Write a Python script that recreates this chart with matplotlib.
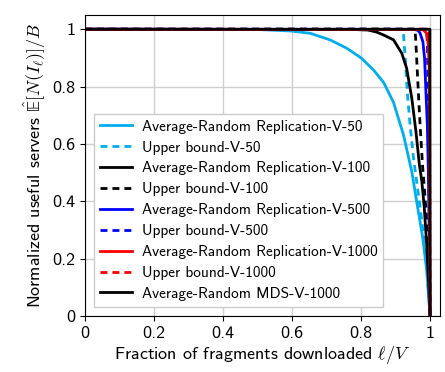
import matplotlib
matplotlib.use("Agg")
import matplotlib.pyplot as plt

plt.rcParams['mathtext.fontset'] = 'cm'
plt.rcParams['font.family'] = ['cmss10', 'DejaVu Sans']
plt.rcParams['axes.unicode_minus'] = False

# curves: fraction downloaded l/V -> normalized useful servers
x_avg50 = [0, 0.5, 0.594, 0.652, 0.71, 0.758, 0.80, 0.836, 0.865, 0.894, 0.923, 0.947, 0.961, 0.979, 0.99, 1.0]
y_avg50 = [1, 0.999, 0.994, 0.986, 0.963, 0.934, 0.90, 0.858, 0.815, 0.745, 0.631, 0.503, 0.40, 0.27, 0.16, 0]
x_ub50 = [0, 0.92, 0.923, 0.928, 0.934, 0.942, 0.952, 0.962, 0.971, 0.983, 0.992, 1.0]
y_ub50 = [1, 1, 0.98, 0.90, 0.78, 0.666, 0.55, 0.46, 0.38, 0.26, 0.15, 0]

x_avg100 = [0, 0.78, 0.82, 0.845, 0.865, 0.894, 0.918, 0.932, 0.947, 0.959, 0.969, 0.976, 0.983, 0.99, 0.995, 1.0]
y_avg100 = [1, 0.999, 0.997, 0.99, 0.98, 0.963, 0.916, 0.864, 0.759, 0.643, 0.527, 0.47, 0.38, 0.25, 0.13, 0]
x_ub100 = [0, 0.956, 0.958, 0.961, 0.966, 0.971, 0.978, 0.983, 0.988, 0.994, 0.997, 1.0]
y_ub100 = [1, 1, 0.97, 0.90, 0.78, 0.666, 0.527, 0.45, 0.37, 0.25, 0.14, 0]

x_avg500 = [0, 0.955, 0.965, 0.971, 0.979, 0.984, 0.988, 0.992, 0.995, 0.998, 1.0]
y_avg500 = [1, 0.999, 0.996, 0.986, 0.957, 0.899, 0.78, 0.666, 0.503, 0.25, 0]
x_ub500 = [0, 0.99, 0.992, 0.994, 0.996, 0.998, 1.0]
y_ub500 = [1, 1, 0.95, 0.8, 0.55, 0.3, 0]

x_avg1000 = [0, 0.975, 0.981, 0.99, 0.995, 0.998, 1.0]
y_avg1000 = [1, 0.999, 0.997, 0.986, 0.945, 0.84, 0]
x_ub1000 = [0, 0.997, 0.998, 0.999, 1.0]
y_ub1000 = [1, 1, 0.9, 0.5, 0]

x_mds = [0, 0.9995, 1.0]
y_mds = [1, 1, 0]

cyan = '#00AEEF'
dash = (2.5, 1.8)

fig, ax = plt.subplots(figsize=(4.45, 3.72), dpi=100)
ax.plot(x_avg50, y_avg50, color=cyan, lw=2, label='Average-Random Replication-V-50')
ax.plot(x_ub50, y_ub50, color=cyan, lw=2, ls=(0, dash), label='Upper bound-V-50')
ax.plot(x_avg100, y_avg100, color='black', lw=2, label='Average-Random Replication-V-100')
ax.plot(x_ub100, y_ub100, color='black', lw=2, ls=(0, dash), label='Upper bound-V-100')
ax.plot(x_avg500, y_avg500, color='blue', lw=2, label='Average-Random Replication-V-500')
ax.plot(x_ub500, y_ub500, color='blue', lw=2, ls=(0, dash), label='Upper bound-V-500')
ax.plot(x_avg1000, y_avg1000, color='red', lw=2, label='Average-Random Replication-V-1000')
ax.plot(x_ub1000, y_ub1000, color='red', lw=2, ls=(0, dash), label='Upper bound-V-1000')
ax.plot(x_mds, y_mds, color='black', lw=2, label='Average-Random MDS-V-1000')

ax.set_xlim(0, 1.029)
ax.set_ylim(0, 1.05)
ticks = [0, 0.2, 0.4, 0.6, 0.8, 1]
tick_labels = ['0', '0.2', '0.4', '0.6', '0.8', '1']
ax.set_xticks(ticks)
ax.set_xticklabels(tick_labels)
ax.set_yticks(ticks)
ax.set_yticklabels(tick_labels)
ax.tick_params(labelsize=13, direction='out')
ax.grid(True, color='#cfcfcf', lw=1)
ax.set_xlabel(r'Fraction of fragments downloaded $\ell/V$', fontsize=13, labelpad=2)
ax.set_ylabel('Normalized useful servers $\\hat{\U0001D53C}[N(I_\\ell)]/B$', fontsize=13, labelpad=3)
ax.legend(loc='lower left', fontsize=11, handlelength=2.1, labelspacing=0.45, handletextpad=0.6,
          fancybox=False, edgecolor='#cccccc', framealpha=1, borderaxespad=0.6)

fig.subplots_adjust(left=0.191, right=0.989, top=0.96, bottom=0.1505)
fig.savefig('out.png')
